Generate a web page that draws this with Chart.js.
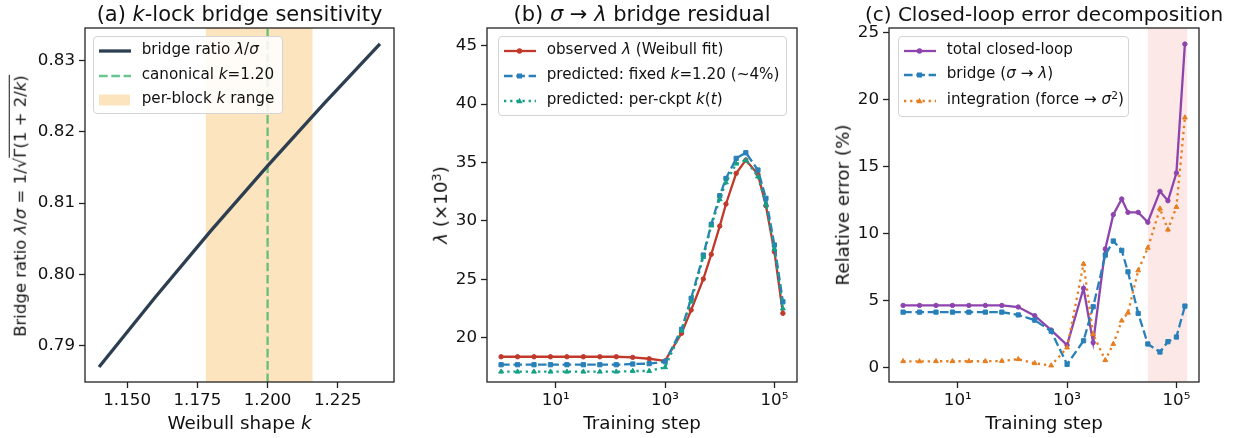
<!DOCTYPE html>
<html>
<head>
<meta charset="utf-8">
<script src="https://cdn.jsdelivr.net/npm/chart.js@4.4.0/dist/chart.umd.min.js"></script>
<style>
  html, body { margin: 0; padding: 0; background: #fff; }
  #wrap { position: relative; width: 1250px; height: 438px; overflow: hidden; background: #fff;
          font-family: 'DejaVu Sans', sans-serif; color: #111; }
  canvas { position: absolute; top: 0; }
  .t { position: absolute; white-space: nowrap; line-height: 1; }
  .title { font-size: 20px; transform: translateX(-50%); top: 4px; }
  .xl { font-size: 18.3px; transform: translateX(-50%); top: 414px; }
  .yl { font-size: 18.3px; transform: translate(-50%, -50%) rotate(-90deg); }
  .leg { position: absolute; border: 1px solid #d4d4d4; border-radius: 4px; background: rgba(255,255,255,0.85); box-sizing: border-box; }
  .leg .lt { position: absolute; left: 48px; font-size: 15.2px; line-height: 18px; white-space: nowrap; }
  sup { font-size: 0.7em; vertical-align: 0.45em; line-height: 0; }
  .sq { border-top: 1.2px solid #111; padding-top: 1px; }
</style>
</head>
<body>
<div id="wrap">
  <canvas id="ca" width="420" height="438" style="left:0px"></canvas>
  <canvas id="cb" width="410" height="438" style="left:420px"></canvas>
  <canvas id="cc" width="420" height="438" style="left:830px"></canvas>

  <div class="t title" style="left:239.5px; font-size:21px; top:3.5px">(a) <i>k</i>-lock bridge sensitivity</div>
  <div class="t title" style="left:642px; font-size:21px; top:3.5px">(b) <i>σ</i> → <i>λ</i> bridge residual</div>
  <div class="t title" style="left:1044px">(c) Closed-loop error decomposition</div>

  <div class="t xl" style="left:239.5px">Weibull shape <i>k</i></div>
  <div class="t xl" style="left:642px">Training step</div>
  <div class="t xl" style="left:1044px">Training step</div>

  <div class="t yl" style="left:20.5px; top:206px; font-size:16.5px">Bridge ratio <i>λ</i>/<i>σ</i> = 1/√<span class="sq">Γ(1 + 2/<i>k</i>)</span></div>
  <div class="t yl" style="left:440.5px; top:205px"><i>λ</i> (×10<sup>3</sup>)</div>
  <div class="t yl" style="left:843px; top:205px">Relative error (%)</div>

  <div id="legA" class="leg" style="left:92.7px; top:36px; width:190px; height:78.3px"></div>
  <div id="legB" class="leg" style="left:497.7px; top:36px; width:289px; height:79.7px"></div>
  <div id="legC" class="leg" style="left:897.7px; top:35.7px; width:231.3px; height:81px"></div>
</div>

<script>
// ---------------- DATA ----------------
// Panel (a)
const kValues      = [1.14, 1.16, 1.18, 1.20, 1.22, 1.24];
const bridgeRatio  = [0.7870, 0.7968, 0.8062, 0.8152, 0.8239, 0.8323];
const canonicalK   = 1.20;
const blockKRange  = [1.178, 1.216];
const kTicks       = [1.150, 1.175, 1.200, 1.225];
const ratioTicks   = [0.79, 0.80, 0.81, 0.82, 0.83];

// Panels (b) and (c): training steps
const steps = [1, 2, 4, 8, 16, 32, 64, 128, 256, 512, 1000, 2000, 3000, 5000, 7000,
               10000, 13000, 20000, 30000, 50000, 70000, 100000, 143000];
const stepTicks      = [10, 1000, 100000];
const stepTickLabels = ['10¹', '10³', '10⁵'];

// Panel (b): lambda (x10^3)
const observedLambda = [18.37, 18.37, 18.37, 18.37, 18.37, 18.37, 18.37, 18.37, 18.32, 18.20, 18.02,
                        20.38, 22.37, 25.03, 27.14, 29.56, 31.45, 34.08, 35.21, 33.99, 31.30, 27.36, 22.09];
const predFixedK     = [17.69, 17.69, 17.69, 17.69, 17.69, 17.69, 17.69, 17.69, 17.75, 17.78, 17.95,
                        20.72, 23.37, 27.08, 29.71, 32.16, 33.64, 35.36, 35.84, 34.36, 31.94, 27.94, 23.08];
const predPerCkptK   = [17.09, 17.09, 17.09, 17.09, 17.09, 17.09, 17.09, 17.09, 17.15, 17.15, 17.47,
                        20.60, 23.10, 26.90, 29.60, 31.85, 33.30, 34.90, 35.20, 33.80, 31.40, 27.60, 22.50];
const lambdaTicks    = [20, 25, 30, 35, 40, 45];

// Panel (c): relative error (%)
const totalErr       = [4.62, 4.62, 4.62, 4.62, 4.62, 4.62, 4.62, 4.50, 3.85, 2.78, 1.65,
                        5.90, 1.84, 8.84, 11.40, 12.57, 11.57, 11.57, 10.83, 13.14, 12.44, 14.51, 24.14];
const bridgeErr      = [4.12, 4.12, 4.12, 4.12, 4.12, 4.12, 4.12, 3.91, 3.52, 2.69, 0.22,
                        1.98, 4.52, 8.38, 9.43, 8.73, 7.13, 4.02, 1.74, 1.14, 1.91, 2.26, 4.57];
const integrationErr = [0.45, 0.44, 0.45, 0.45, 0.45, 0.45, 0.47, 0.60, 0.30, 0.13, 1.47,
                        7.72, 2.46, 0.53, 1.74, 3.48, 4.07, 7.23, 8.92, 11.85, 10.28, 11.97, 18.65];
const errorTicks     = [0, 5, 10, 15, 20, 25];
const lateRegime     = [30000, 157000];

// ---------------- STYLE ----------------
const C = {
  navy: '#2c3e50', green: 'rgba(39,174,96,0.7)', band: 'rgba(243,156,18,0.27)',
  red: '#c0392b', blue: '#2980b9', teal: '#16a085',
  purple: '#8e44ad', orange: '#e67e22', pink: 'rgba(231,76,60,0.13)', axis: '#222'
};
const DASH = [8.6, 3.7], DOT = [2.3, 3.85];

Chart.defaults.font.family = "'DejaVu Sans', sans-serif";
Chart.defaults.color = '#111';

const pts = (xs, ys) => xs.map((x, i) => ({ x: x, y: ys[i] }));

function axis(pos, min, max, tickVals, fmt, fitSize, type) {
  return {
    type: type || 'linear', position: pos, min: min, max: max, bounds: 'data',
    grid: { display: true, drawOnChartArea: false, drawTicks: true, tickLength: 6, tickWidth: 1.3, tickColor: C.axis },
    border: { display: false },
    ticks: { font: { size: 16.7 }, color: '#111', padding: pos === 'left' ? 4 : 3, maxRotation: 0, autoSkip: false,
             callback: function (v, i) { return fmt(v, i); } },
    afterBuildTicks: function (s) { s.ticks = tickVals.map(v => ({ value: v })); },
    afterFit: function (s) { if (pos === 'left') s.width = fitSize; else s.height = fitSize; }
  };
}

const framePlugin = {
  id: 'frame',
  afterDraw(chart) {
    const a = chart.chartArea, ctx = chart.ctx;
    ctx.save(); ctx.strokeStyle = C.axis; ctx.lineWidth = 1.3;
    ctx.strokeRect(a.left, a.top, a.right - a.left, a.bottom - a.top);
    ctx.restore();
  }
};

function spanPlugin(id, range, color, vline) {
  return {
    id: id,
    beforeDatasetsDraw(chart) {
      const a = chart.chartArea, ctx = chart.ctx, xs = chart.scales.x;
      ctx.save();
      const x0 = xs.getPixelForValue(range[0]), x1 = xs.getPixelForValue(range[1]);
      ctx.fillStyle = color;
      ctx.fillRect(x0, a.top, x1 - x0, a.bottom - a.top);
      if (vline) {
        const xv = xs.getPixelForValue(vline.value);
        ctx.strokeStyle = vline.color; ctx.lineWidth = 2.3; ctx.setLineDash(DASH);
        ctx.beginPath(); ctx.moveTo(xv, a.bottom); ctx.lineTo(xv, a.top); ctx.stroke();
      }
      ctx.restore();
    }
  };
}

const baseOpts = (padRight) => ({
  responsive: false, animation: false, devicePixelRatio: 1,
  layout: { padding: { left: 0, right: padRight, top: 28, bottom: 0 } },
  plugins: { legend: { display: false }, tooltip: { enabled: false }, title: { display: false } },
  elements: { line: { tension: 0 } }
});

function series(xs, ys, color, dash, style, r, order) {
  return {
    data: pts(xs, ys), borderColor: color, backgroundColor: color, borderWidth: 2.3,
    borderDash: dash || [], pointStyle: style, pointRadius: r, pointBorderWidth: 1,
    pointBackgroundColor: color, pointBorderColor: color, order: order, fill: false
  };
}

// ---------------- Panel (a) ----------------
new Chart(document.getElementById('ca'), {
  type: 'line',
  data: { datasets: [{ data: pts(kValues, bridgeRatio), borderColor: C.navy, borderWidth: 3.3, pointRadius: 0, fill: false }] },
  options: Object.assign(baseOpts(26), {
    scales: {
      x: axis('bottom', 1.135, 1.245, kTicks, v => Number(v).toFixed(3), 56),
      y: axis('left', 0.78491, 0.83453, ratioTicks, v => Number(v).toFixed(2), 85)
    }
  }),
  plugins: [spanPlugin('bandA', blockKRange, C.band, { value: canonicalK, color: C.green }), framePlugin]
});

// ---------------- Panel (b) ----------------
const logFmt = (v, i) => stepTickLabels[i];
new Chart(document.getElementById('cb'), {
  type: 'line',
  data: { datasets: [
    series(steps, observedLambda, C.red, null, 'circle', 2.2, 3),
    series(steps, predFixedK, C.blue, DASH, 'rect', 3, 2),
    series(steps, predPerCkptK, C.teal, DOT, 'triangle', 2.8, 1)
  ] },
  options: Object.assign(baseOpts(33), {
    scales: {
      x: axis('bottom', 0.5524, 259000, stepTicks, logFmt, 56, 'logarithmic'),
      y: axis('left', 16.21, 46.52, lambdaTicks, v => String(v), 67)
    }
  }),
  plugins: [framePlugin]
});

// ---------------- Panel (c) ----------------
new Chart(document.getElementById('cc'), {
  type: 'line',
  data: { datasets: [
    series(steps, totalErr, C.purple, null, 'circle', 2.2, 3),
    series(steps, bridgeErr, C.blue, DASH, 'rect', 3, 2),
    series(steps, integrationErr, C.orange, DOT, 'triangle', 2.8, 1)
  ] },
  options: Object.assign(baseOpts(51), {
    scales: {
      x: axis('bottom', 0.5524, 259000, stepTicks, logFmt, 56, 'logarithmic'),
      y: axis('left', -1.1, 25.34, errorTicks, v => String(v), 59)
    }
  }),
  plugins: [spanPlugin('bandC', lateRegime, C.pink, null), framePlugin]
});

// ---------------- Legends (HTML) ----------------
function handle(color, dash, marker) {
  const da = dash ? ` stroke-dasharray="${dash.join(' ')}"` : '';
  let m = '';
  if (marker === 'circle') m = `<circle cx="16.5" cy="7" r="2.7" fill="${color}"/>`;
  if (marker === 'rect') m = `<rect x="14" y="4.5" width="5" height="5" fill="${color}"/>`;
  if (marker === 'triangle') m = `<polygon points="16.5,3.8 19.6,9.2 13.4,9.2" fill="${color}"/>`;
  if (marker === 'patch') return `<svg width="34" height="14"><rect x="1" y="1.5" width="31" height="11" fill="${color}"/></svg>`;
  return `<svg width="34" height="14"><line x1="1" y1="7" x2="33" y2="7" stroke="${color}" stroke-width="${marker ? 2.3 : (dash ? 2.3 : 3.3)}"${da}/>${m}</svg>`;
}
function legend(id, rows) {
  document.getElementById(id).innerHTML = rows.map(r =>
    `<div style="position:absolute;left:4px;top:${r.cy - 7}px;height:14px;width:40px">${r.svg}</div>` +
    `<div class="lt" style="top:${r.cy - 10}px">${r.html}</div>`).join('');
}
legend('legA', [
  { cy: 13, svg: handle(C.navy, null, null), html: 'bridge ratio <i>λ</i>/<i>σ</i>' },
  { cy: 37.5, svg: handle(C.green, DASH, null), html: 'canonical <i>k</i>=1.20' },
  { cy: 62, svg: handle(C.band, null, 'patch'), html: 'per-block <i>k</i> range' }
]);
legend('legB', [
  { cy: 13, svg: handle(C.red, null, 'circle'), html: 'observed <i>λ</i> (Weibull fit)' },
  { cy: 37.5, svg: handle(C.blue, DASH, 'rect'), html: 'predicted: fixed <i>k</i>=1.20 (~4%)' },
  { cy: 63, svg: handle(C.teal, DOT, 'triangle'), html: 'predicted: per-ckpt <i>k</i>(<i>t</i>)' }
]);
legend('legC', [
  { cy: 13, svg: handle(C.purple, null, 'circle'), html: 'total closed-loop' },
  { cy: 37, svg: handle(C.blue, DASH, 'rect'), html: 'bridge (<i>σ</i> → <i>λ</i>)' },
  { cy: 63.5, svg: handle(C.orange, DOT, 'triangle'), html: 'integration (force → <i>σ</i><sup>2</sup>)' }
]);
</script>
</body>
</html>
